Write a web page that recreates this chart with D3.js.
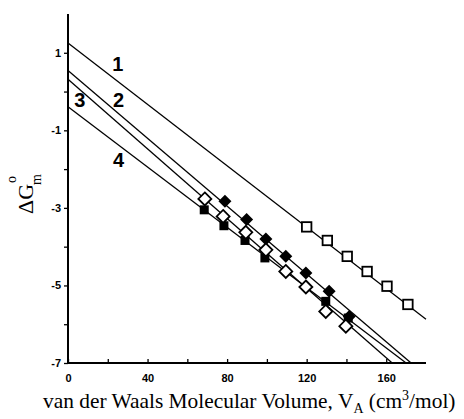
<!DOCTYPE html>
<html><head><meta charset="utf-8">
<script src="https://cdn.jsdelivr.net/npm/d3@7"></script>
<style>body{margin:0;background:#fff}svg{display:block}</style>
</head><body>
<svg id="c" width="464" height="419"></svg>
<script>
// ---- data ----
const openSquareX = [120, 130.4, 140.4, 150.4, 160.4, 170.9];
const openSquareY = [-3.49, -3.84, -4.25, -4.64, -5.02, -5.49];
const filledDiamondX = [78.9, 89.8, 99.5, 109.5, 119.6, 131.3, 141.4];
const filledDiamondY = [-2.83, -3.30, -3.80, -4.25, -4.68, -5.15, -5.80];
const openDiamondX = [68.8, 78.0, 89.4, 99.5, 109.5, 119.6, 129.6, 139.7];
const openDiamondY = [-2.77, -3.22, -3.63, -4.08, -4.64, -5.04, -5.67, -6.05];
const filledSquareX = [68.5, 78.4, 89.0, 99.0, 129.6, 140.9];
const filledSquareY = [-3.05, -3.46, -3.84, -4.29, -5.41, -5.84];
// regression lines: start and end points (data units)
const lineNames = ["1", "2", "3", "4"];
const lineX0 = [0, 0, 0, 0];
const lineY0 = [1.25, 0.54, 0.32, -0.39];
const lineX1 = [180, 172.5, 163, 170];
const lineY1 = [-5.87, -7, -7, -7];
const labelX = [25.1, 25.4, 6.0, 25.4];
const labelY = [0.72, -0.22, -0.22, -1.75];
const xTickValues = [0, 20, 40, 60, 80, 100, 120, 140, 160];
const xTickLabels = ["0", "", "40", "", "80", "", "120", "", "160"];
const yTickValues = [1, 0, -1, -2, -3, -4, -5, -6, -7];
const yTickLabels = ["1", "", "-1", "", "-3", "", "-5", "", "-7"];

const svg = d3.select("#c");
const x = d3.scaleLinear().domain([0, 180]).range([68, 426]);
const y = d3.scaleLinear().domain([-7, 2]).range([363, 14]);

const tickFont = "'Liberation Sans', Arial, sans-serif";
const serif = "'Liberation Serif', 'Times New Roman', serif";

// regression lines
svg.append("g").selectAll("line").data(lineNames).join("line")
  .attr("x1", (d, i) => x(lineX0[i])).attr("y1", (d, i) => y(lineY0[i]))
  .attr("x2", (d, i) => x(lineX1[i])).attr("y2", (d, i) => y(lineY1[i]))
  .attr("stroke", "#000").attr("stroke-width", 1.3);

// axes
const xAxis = d3.axisBottom(x).tickValues(xTickValues)
  .tickFormat((d, i) => xTickLabels[i]).tickSizeInner(-4).tickSizeOuter(0).tickPadding(11);
const gx = svg.append("g").attr("transform", `translate(0,${y(-7)})`).call(xAxis);
gx.select(".domain").remove();
gx.selectAll(".tick line").attr("stroke-width", 1.3);
gx.selectAll("text").attr("font-family", tickFont).attr("font-weight", "bold").attr("font-size", 11).attr("fill", "#000");

const yAxis = d3.axisLeft(y).tickValues(yTickValues)
  .tickFormat((d, i) => yTickLabels[i]).tickSizeInner(4).tickSizeOuter(0).tickPadding(3);
const gy = svg.append("g").attr("transform", `translate(${x(0)},0)`).call(yAxis);
gy.select(".domain").remove();
gy.selectAll(".tick line").attr("stroke-width", 1.3);
gy.selectAll("text").attr("font-family", tickFont).attr("font-weight", "bold").attr("font-size", 11).attr("fill", "#000");

svg.append("line").attr("x1", x(0)).attr("x2", x(180)).attr("y1", y(-7)).attr("y2", y(-7))
  .attr("stroke", "#000").attr("stroke-width", 2);
svg.append("line").attr("x1", x(0)).attr("x2", x(0)).attr("y1", y(-7) + 1).attr("y2", y(2))
  .attr("stroke", "#000").attr("stroke-width", 2);

// markers
const fs = 9;
svg.append("g").selectAll("rect").data(filledSquareX).join("rect")
  .attr("x", (d) => x(d) - fs / 2).attr("y", (d, i) => y(filledSquareY[i]) - fs / 2)
  .attr("width", fs).attr("height", fs).attr("fill", "#000");
const diamond = (r) => `M0,${-r}L${r},0L0,${r}L${-r},0Z`;
svg.append("g").selectAll("path").data(filledDiamondX).join("path")
  .attr("transform", (d, i) => `translate(${x(d)},${y(filledDiamondY[i])})`)
  .attr("d", diamond(6.5)).attr("fill", "#000");
svg.append("g").selectAll("path").data(openDiamondX).join("path")
  .attr("transform", (d, i) => `translate(${x(d)},${y(openDiamondY[i])})`)
  .attr("d", diamond(6.5)).attr("fill", "#fff").attr("stroke", "#000").attr("stroke-width", 1.8);
const os = 9.5;
svg.append("g").selectAll("rect").data(openSquareX).join("rect")
  .attr("x", (d) => x(d) - os / 2).attr("y", (d, i) => y(openSquareY[i]) - os / 2)
  .attr("width", os).attr("height", os).attr("fill", "#fff").attr("stroke", "#000").attr("stroke-width", 1.8);

// line labels
svg.append("g").selectAll("text").data(lineNames).join("text")
  .attr("x", (d, i) => x(labelX[i])).attr("y", (d, i) => y(labelY[i]))
  .attr("dy", "0.36em").attr("text-anchor", "middle")
  .attr("font-family", tickFont).attr("font-weight", "bold").attr("font-size", 20)
  .text((d) => d);

// x axis title
const xt = svg.append("text").attr("x", 43).attr("y", 408)
  .attr("font-family", serif).attr("font-size", 21.4).attr("fill", "#000");
xt.append("tspan").text("van der Waals Molecular Volume, V");
xt.append("tspan").attr("font-size", 14).attr("dy", 5).text("A");
xt.append("tspan").attr("dy", -5).text(" (cm");
xt.append("tspan").attr("font-size", 14).attr("dy", -8).text("3");
xt.append("tspan").attr("dy", 8).text("/mol)");

// y axis title (rotated)
const yg = svg.append("g").attr("transform", "translate(33,214) rotate(-90)")
  .attr("font-family", serif).attr("fill", "#000");
const main = yg.append("text").attr("x", 0).attr("y", 0).attr("font-size", 22).text("\u0394G");
const w = main.node().getComputedTextLength();
yg.append("text").attr("x", w + 1).attr("y", -17).attr("font-size", 14).text("o");
yg.append("text").attr("x", w - 1).attr("y", 8).attr("font-size", 14).text("m");
</script>
</body></html>
